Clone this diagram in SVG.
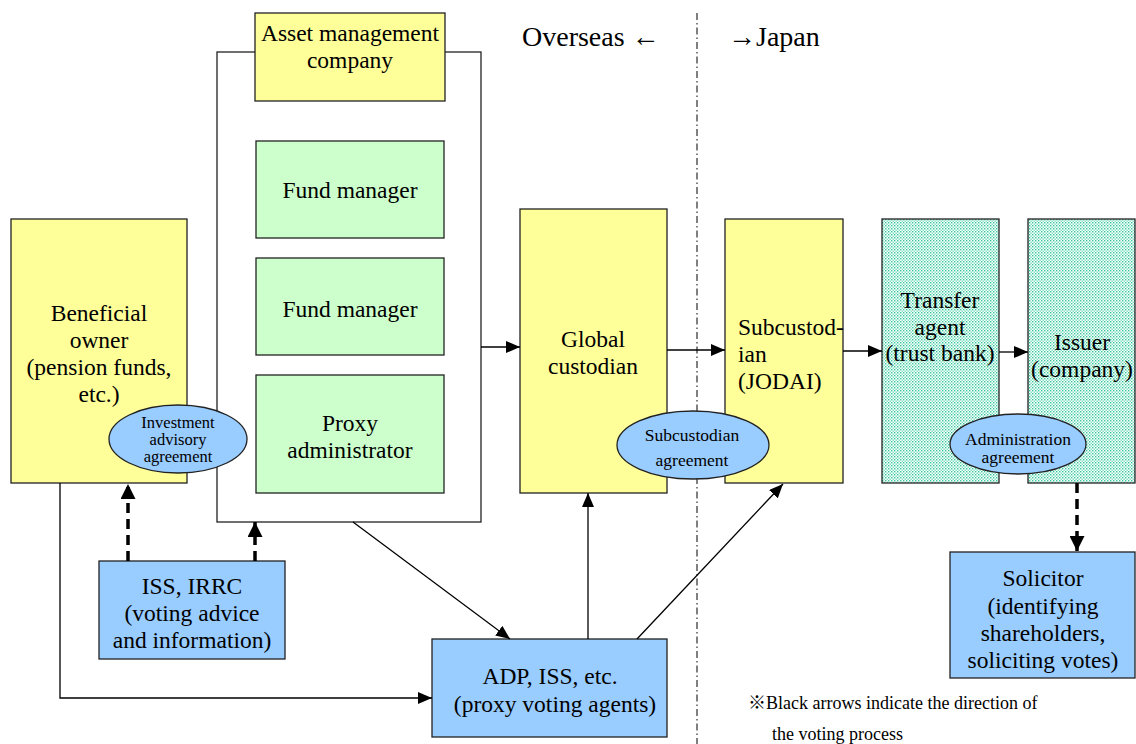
<svg xmlns="http://www.w3.org/2000/svg" width="1136" height="744" viewBox="0 0 1136 744">
<defs>
<pattern id="dots" width="3" height="3" patternUnits="userSpaceOnUse">
<rect width="3" height="3" fill="#ffffff"/>
<rect x="0" y="0" width="1.4" height="1.4" fill="#33c79a"/>
<rect x="1.5" y="1.5" width="1.4" height="1.4" fill="#6fdcbb"/>
</pattern>
<marker id="ah" markerUnits="userSpaceOnUse" markerWidth="14" markerHeight="12" refX="14" refY="6" orient="auto">
<path d="M0,0 L14,6 L0,12 z" fill="#000"/>
</marker>
<marker id="ahb" markerUnits="userSpaceOnUse" markerWidth="15" markerHeight="15" refX="15" refY="7.5" orient="auto">
<path d="M0,0 L15,7.5 L0,15 z" fill="#000"/>
</marker>
</defs>
<style>
.box{stroke:#222;stroke-width:1.3}
.y{fill:#ffff99}
.g{fill:#ccffcc}
.b{fill:#99ccff}
.d{fill:url(#dots)}
.t{font-family:"Liberation Serif","Times New Roman",serif;font-size:23.5px;fill:#000}
.c{text-anchor:middle}
.s{font-family:"Liberation Serif","Times New Roman",serif;font-size:16.5px;fill:#000;text-anchor:middle}
.n{font-family:"Liberation Serif","Noto Sans CJK JP",serif;font-size:18px;fill:#000}
.ln{stroke:#000;stroke-width:1.3;fill:none}
.dash{stroke:#000;stroke-width:3.5;fill:none;stroke-dasharray:10 6}
</style>
<rect width="1136" height="744" fill="#fff"/>

<line x1="697" y1="13" x2="697" y2="744" stroke="#000" stroke-width="1" stroke-dasharray="7 3 1.5 3"/>
<text class="t" x="522" y="46" style="font-size:28px">Overseas ←</text>
<text class="t" x="728" y="46" style="font-size:28px">→Japan</text>

<g id="asset-container">
<rect class="box" x="217" y="52" width="264" height="470" fill="#fff"/>
</g>
<g id="asset-management-company">
<rect class="box y" x="255" y="13" width="190" height="88"/>
<text class="t c" x="350" y="41">Asset management</text>
<text class="t c" x="350" y="68">company</text>
</g>
<g id="fund-manager-1">
<rect class="box g" x="256" y="141" width="188" height="97"/>
<text class="t c" x="350" y="198">Fund manager</text>
</g>
<g id="fund-manager-2">
<rect class="box g" x="256" y="258" width="188" height="97"/>
<text class="t c" x="350" y="317">Fund manager</text>
</g>
<g id="proxy-administrator">
<rect class="box g" x="256" y="375" width="188" height="118"/>
<text class="t c" x="350" y="431">Proxy</text>
<text class="t c" x="350" y="458">administrator</text>
</g>

<g id="beneficial-owner">
<rect class="box y" x="11" y="219" width="176" height="264"/>
<text class="t c" x="99" y="321">Beneficial</text>
<text class="t c" x="99" y="348">owner</text>
<text class="t c" x="99" y="375">(pension funds,</text>
<text class="t c" x="99" y="402">etc.)</text>
</g>
<g id="investment-advisory-agreement">
<ellipse class="box b" cx="178" cy="439" rx="69" ry="34"/>
<text class="s" x="178" y="428">Investment</text>
<text class="s" x="178" y="445">advisory</text>
<text class="s" x="178" y="462">agreement</text>
</g>

<g id="global-custodian">
<rect class="box y" x="520" y="209" width="147" height="284"/>
<text class="t c" x="593" y="347">Global</text>
<text class="t c" x="593" y="374">custodian</text>
</g>
<g id="subcustodian">
<rect class="box y" x="725" y="219" width="118" height="264"/>
<text class="t" x="738" y="335">Subcustod-</text>
<text class="t" x="738" y="362">ian</text>
<text class="t" x="738" y="389">(JODAI)</text>
</g>
<g id="subcustodian-agreement">
<ellipse class="box b" cx="693" cy="445" rx="76" ry="34"/>
<text class="s" x="692" y="441" style="font-size:17.5px">Subcustodian</text>
<text class="s" x="692" y="466" style="font-size:17.5px">agreement</text>
</g>

<g id="transfer-agent">
<rect class="box d" x="882" y="219" width="117" height="264"/>
<text class="t c" x="940" y="308">Transfer</text>
<text class="t c" x="940" y="335">agent</text>
<text class="t c" x="940" y="361">(trust bank)</text>
</g>
<g id="issuer">
<rect class="box d" x="1028" y="219" width="107" height="264"/>
<text class="t c" x="1082" y="350">Issuer</text>
<text class="t c" x="1082" y="377">(company)</text>
</g>
<g id="administration-agreement">
<ellipse class="box b" cx="1018" cy="444" rx="68" ry="30"/>
<text class="s" x="1018" y="445" style="font-size:17.5px">Administration</text>
<text class="s" x="1018" y="463" style="font-size:17.5px">agreement</text>
</g>

<g id="iss-irrc">
<rect class="box b" x="99" y="561" width="186" height="98"/>
<text class="t c" x="192" y="594">ISS, IRRC</text>
<text class="t c" x="192" y="621">(voting advice</text>
<text class="t c" x="192" y="648">and information)</text>
</g>
<g id="adp-iss">
<rect class="box b" x="432" y="639" width="235" height="98"/>
<text class="t c" x="550" y="684">ADP, ISS, etc.</text>
<text class="t c" x="555" y="712">(proxy voting agents)</text>
</g>
<g id="solicitor">
<rect class="box b" x="950" y="552" width="185" height="126"/>
<text class="t c" x="1043" y="586">Solicitor</text>
<text class="t c" x="1043" y="614">(identifying</text>
<text class="t c" x="1043" y="641">shareholders,</text>
<text class="t c" x="1043" y="668">soliciting votes)</text>
</g>

<g id="connectors">
<line class="ln" x1="481" y1="347" x2="520" y2="347" marker-end="url(#ah)"/>
<line class="ln" x1="667" y1="350" x2="725" y2="350" marker-end="url(#ah)"/>
<line class="ln" x1="843" y1="351" x2="882" y2="351" marker-end="url(#ah)"/>
<line class="ln" x1="999" y1="352" x2="1028" y2="352" marker-end="url(#ah)"/>
<polyline class="ln" points="60,483 60,698 432,698" marker-end="url(#ah)"/>
<line class="ln" x1="353" y1="522" x2="510" y2="639" marker-end="url(#ah)"/>
<line class="ln" x1="588" y1="639" x2="588" y2="493" marker-end="url(#ah)"/>
<line class="ln" x1="637" y1="639" x2="783" y2="484" marker-end="url(#ah)"/>
<line class="dash" x1="128" y1="561" x2="128" y2="484" marker-end="url(#ahb)"/>
<line class="dash" x1="255" y1="561" x2="255" y2="522" marker-end="url(#ahb)"/>
<line class="dash" x1="1077" y1="483" x2="1077" y2="551" marker-end="url(#ahb)"/>
</g>

<text class="n" x="748" y="709">※Black arrows indicate the direction of</text>
<text class="n" x="772" y="740">the voting process</text>
</svg>
